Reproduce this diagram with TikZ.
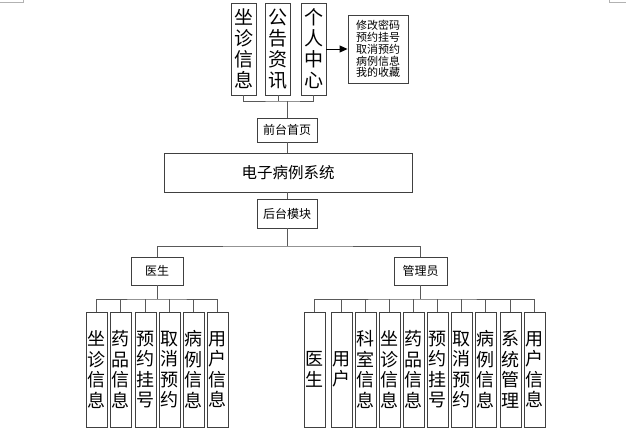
\documentclass[tikz,border=0pt]{standalone}
\usepackage{fontspec}
\setmainfont{Noto Sans CJK SC}
\usetikzlibrary{arrows.meta}
\begin{document}
\begin{tikzpicture}[x=1pt,y=-1pt,
  box/.style={draw=black!75, line width=0.9pt, fill=white, inner sep=0pt, align=center},
  vbox/.style={box, minimum width=21pt, minimum height=115pt, font=\fontsize{18}{20.5}\selectfont},
  tbox/.style={box, minimum width=25pt, minimum height=92pt, font=\fontsize{19}{21}\selectfont},
  conn/.style={draw=black!65, line width=0.9pt},
  cornermark/.style={draw=black!30, line width=0.6pt}]
\useasboundingbox (0,0) rectangle (626,432);
% page corner marks
\draw[cornermark] (0,2) -- (23,2) -- (23,0);
\draw[cornermark] (609,0) -- (609,2) -- (626,2);
% top boxes
\node[tbox] (t1) at (243.5,49) {坐\\诊\\信\\息};
\node[tbox] (t2) at (278,49) {公\\告\\资\\讯};
\node[tbox] (t3) at (313.5,49) {个\\人\\中\\心};
\node[box, minimum width=60pt, minimum height=68pt, font=\fontsize{11}{11.8}\selectfont] (rb) at (378,49) {修改密码\\预约挂号\\取消预约\\病例信息\\我的收藏};
\draw[draw=black, line width=0.9pt, -{Triangle[length=8pt,width=7pt]}] (t3.east) -- (rb.west);
% middle
\node[box, minimum width=60pt, minimum height=24pt, font=\fontsize{12}{14}\selectfont] (front) at (287,130) {前台首页};
\node[box, minimum width=248pt, minimum height=39pt, font=\fontsize{15.5}{18}\selectfont] (sys) at (288,172.5) {电子病例系统};
\node[box, minimum width=60pt, minimum height=29pt, font=\fontsize{12}{14}\selectfont] (back) at (287,213.5) {后台模块};
\coordinate (tb) at (287,101);
\draw[conn] (t1.south) |- (tb) -| (t3.south);
\draw[conn] (t2.south) -- (t2.south |- tb);
\draw[conn] (tb) -- (front.north);
\draw[conn] (front.south) -- (sys.north -| front.south);
\draw[conn] (sys.south -| back.north) -- (back.north);
% second level
\node[box, minimum width=52pt, minimum height=28pt, font=\fontsize{12}{14}\selectfont] (doc) at (157,271) {医生};
\node[box, minimum width=53pt, minimum height=28pt, font=\fontsize{12}{14}\selectfont] (adm) at (420.5,271) {管理员};
\coordinate (bb) at (287,246);
\draw[conn] (back.south) -- (bb);
\draw[conn] (doc.north) |- (bb) -| (adm.north);
% doctor children
\foreach \i/\x/\t in {1/96.5/{坐\\诊\\信\\息},2/120.5/{药\\品\\信\\息},3/145.5/{预\\约\\挂\\号},4/169.5/{取\\消\\预\\约},5/193.5/{病\\例\\信\\息},6/217.5/{用\\户\\信\\息}}{
  \node[vbox] (d\i) at (\x,369.5) {\t};
}
\coordinate (dh) at (157,299);
\draw[conn] (doc.south) -- (dh);
\draw[conn] (d1.north) |- (dh) -| (d6.north);
\foreach \i in {2,...,5}{\draw[conn] (d\i.north) -- (d\i.north |- dh);}
% admin children
\foreach \i/\x/\t in {1/314.5/{医\\生},2/341.5/{用\\户},3/365.5/{科\\室\\信\\息},4/389.5/{坐\\诊\\信\\息},5/413.5/{药\\品\\信\\息},6/437.5/{预\\约\\挂\\号},7/461.5/{取\\消\\预\\约},8/485.5/{病\\例\\信\\息},9/510.5/{系\\统\\管\\理},10/534.5/{用\\户\\信\\息}}{
  \node[vbox] (a\i) at (\x,369.5) {\t};
}
\coordinate (ah) at (420.5,299);
\draw[conn] (adm.south) -- (ah);
\draw[conn] (a1.north) |- (ah) -| (a10.north);
\foreach \i in {2,...,9}{\draw[conn] (a\i.north) -- (a\i.north |- ah);}
\end{tikzpicture}
\end{document}
